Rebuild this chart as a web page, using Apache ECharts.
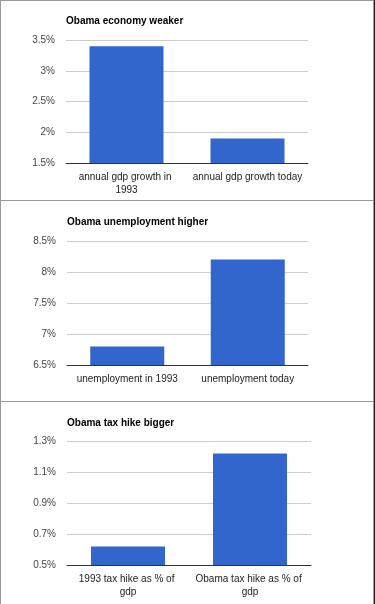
<!DOCTYPE html>
<html><head><meta charset="utf-8">
<script src="https://cdn.jsdelivr.net/npm/echarts@6/dist/echarts.min.js"></script>
<style>html,body{margin:0;padding:0;background:#fff}#c{width:375px;height:604px}</style>
</head><body><div id="c"></div>
<script>
const titles = ['Obama economy weaker', 'Obama unemployment higher', 'Obama tax hike bigger'];
const categories1 = ['annual gdp growth in 1993', 'annual gdp growth today'];
const values1 = [3.4, 1.9];
const categories2 = ['unemployment in 1993', 'unemployment today'];
const values2 = [6.8, 8.2];
const categories3 = ['1993 tax hike as % of gdp', 'Obama tax hike as % of gdp'];
const values3 = [0.62, 1.22];
const yTicks1 = [1.5, 2, 2.5, 3, 3.5];
const yTicks2 = [6.5, 7, 7.5, 8, 8.5];
const yTicks3 = [0.5, 0.7, 0.9, 1.1, 1.3];

const FONT = '"Liberation Sans", Arial, sans-serif';
const grids = [
  {left: 66, top: 40, width: 242, height: 123},
  {left: 67, top: 241, width: 241, height: 124},
  {left: 67, top: 441, width: 244, height: 124}
];
const titleTops = [16, 217, 418];
const cats = [categories1, categories2, categories3];
const vals = [values1, values2, values3];
const ticks = [yTicks1, yTicks2, yTicks3];

const chart = echarts.init(document.getElementById('c'), null, {renderer: 'canvas'});
const fmt = v => parseFloat(Number(v).toFixed(2)) + '%';

const option = {
  animation: false,
  title: titles.map((t, i) => ({
    text: t, left: grids[i].left, top: titleTops[i], padding: 0,
    textStyle: {fontFamily: FONT, fontSize: 10, fontWeight: 'bold', color: '#000'}
  })),
  grid: grids.map(g => Object.assign({containLabel: false}, g)),
  xAxis: cats.map((c, i) => ({
    type: 'category', gridIndex: i, data: c,
    axisTick: {show: false},
    axisLine: {lineStyle: {color: '#333', width: 1}},
    axisLabel: {fontFamily: FONT, fontSize: 10, color: '#222', margin: 8, lineHeight: 13,
      width: 111, overflow: 'break', interval: 0}
  })),
  yAxis: ticks.map((t, i) => ({
    type: 'value', gridIndex: i, min: t[0], max: t[t.length - 1],
    interval: t[1] - t[0],
    axisLine: {show: false}, axisTick: {show: false},
    splitLine: {lineStyle: {color: '#cccccc', width: 1}},
    axisLabel: {fontFamily: FONT, fontSize: 10, color: '#444', margin: 11, formatter: fmt}
  })),
  series: vals.map((v, i) => ({
    type: 'bar', xAxisIndex: i, yAxisIndex: i, data: v,
    barWidth: 74, itemStyle: {color: '#3366cc'}
  })),
  graphic: [
    {type: 'line', shape: {x1: 0, y1: 0.5, x2: 373, y2: 0.5}, style: {stroke: '#999', lineWidth: 1}},
    {type: 'line', shape: {x1: 0.5, y1: 0, x2: 0.5, y2: 604}, style: {stroke: '#999', lineWidth: 1}},
    {type: 'line', shape: {x1: 373.5, y1: 0, x2: 373.5, y2: 604}, style: {stroke: '#999', lineWidth: 1}},
    {type: 'line', shape: {x1: 374.5, y1: 0, x2: 374.5, y2: 604}, style: {stroke: '#222', lineWidth: 1}},
    {type: 'line', shape: {x1: 0, y1: 200.5, x2: 373, y2: 200.5}, style: {stroke: '#999', lineWidth: 1}},
    {type: 'line', shape: {x1: 0, y1: 401.5, x2: 373, y2: 401.5}, style: {stroke: '#999', lineWidth: 1}}
  ]
};
chart.setOption(option);
</script>
</body></html>
